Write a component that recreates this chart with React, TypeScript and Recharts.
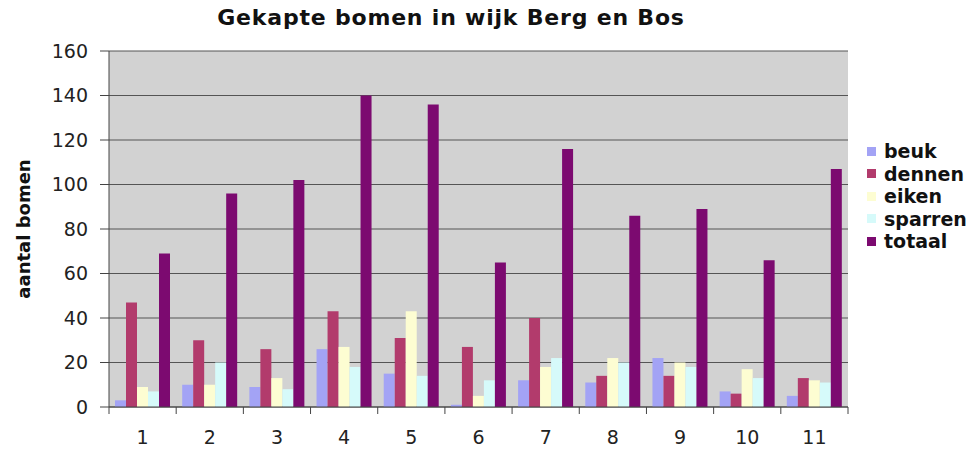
import React from 'react';
import { BarChart, Bar, XAxis, YAxis, CartesianGrid } from 'recharts';

const categories = ['1', '2', '3', '4', '5', '6', '7', '8', '9', '10', '11'];
const beuk = [3, 10, 9, 26, 15, 1, 12, 11, 22, 7, 5];
const dennen = [47, 30, 26, 43, 31, 27, 40, 14, 14, 6, 13];
const eiken = [9, 10, 13, 27, 43, 5, 18, 22, 20, 17, 12];
const sparren = [7, 20, 8, 18, 14, 12, 22, 20, 18, 13, 11];
const totaal = [69, 96, 102, 140, 136, 65, 116, 86, 89, 66, 107];
const yTicks = [0, 20, 40, 60, 80, 100, 120, 140, 160];

const SERIES = [
  { key: 'beuk', color: '#a3a3f5' },
  { key: 'dennen', color: '#b23b6c' },
  { key: 'eiken', color: '#fdfdd2' },
  { key: 'sparren', color: '#d6fafa' },
  { key: 'totaal', color: '#7c0a70' },
];

const data = categories.map((name, i) => ({
  name,
  beuk: beuk[i],
  dennen: dennen[i],
  eiken: eiken[i],
  sparren: sparren[i],
  totaal: totaal[i],
}));

const FONT = '"DejaVu Sans", Arial, sans-serif';
const W = 972;
const H = 450;
const X_AXIS_H = 30;
const margin = { top: 51, right: 124, bottom: 13, left: 10 };
const bandWidth = (W - margin.left - 99 - margin.right) / categories.length;
const axisY = H - margin.bottom - X_AXIS_H;

// x ticks sit on category boundaries, labels in the middle (Excel style)
const XTick = (props: any) => {
  const { x, payload, index } = props;
  return (
    <g>
      <line x1={x - bandWidth / 2} x2={x - bandWidth / 2} y1={axisY} y2={axisY + 7} stroke="#444" />
      {index === categories.length - 1 && (
        <line x1={x + bandWidth / 2} x2={x + bandWidth / 2} y1={axisY} y2={axisY + 7} stroke="#444" />
      )}
      <text x={x} y={axisY + 37} textAnchor="middle" fontSize={19} fill="#222" fontFamily={FONT}>
        {payload.value}
      </text>
    </g>
  );
};

const YTitle = (props: any) => {
  const { viewBox } = props;
  const cx = viewBox.x + 20;
  const cy = viewBox.y + viewBox.height / 2;
  return (
    <text
      transform={`translate(${cx},${cy}) rotate(-90)`}
      textAnchor="middle"
      fontSize={18}
      fontWeight="bold"
      fill="#111"
      fontFamily={FONT}
    >
      aantal bomen
    </text>
  );
};

export default function App() {
  return (
    <div style={{ position: 'absolute', left: 0, top: 0, width: W, height: H, background: '#fff', fontFamily: FONT }}>
      <div
        style={{
          position: 'absolute',
          top: 5,
          left: 0,
          width: 902,
          textAlign: 'center',
          fontSize: 22,
          fontWeight: 'bold',
          letterSpacing: 0.8,
          color: '#111',
        }}
      >
        Gekapte bomen in wijk Berg en Bos
      </div>

      <BarChart width={W} height={H} data={data} margin={margin} barGap={0} barCategoryGap={6}>
        <CartesianGrid fill="#d2d2d2" stroke="#555" vertical={false} />
        <XAxis
          dataKey="name"
          height={X_AXIS_H}
          tickLine={false}
          tick={<XTick />}
          axisLine={{ stroke: '#444' }}
          interval={0}
        />
        <YAxis
          width={99}
          domain={[0, 160]}
          ticks={yTicks}
          tickSize={9}
          tickMargin={12}
          tick={{ fontSize: 19, fill: '#222', fontFamily: FONT }}
          tickLine={{ stroke: '#444' }}
          axisLine={{ stroke: '#444' }}
          label={{ content: <YTitle /> }}
        />
        {SERIES.map((s) => (
          <Bar key={s.key} dataKey={s.key} fill={s.color} isAnimationActive={false} />
        ))}
      </BarChart>

      <div style={{ position: 'absolute', left: 867, top: 140 }}>
        {SERIES.map((s) => (
          <div key={s.key} style={{ display: 'flex', alignItems: 'center', height: 22.5 }}>
            <span style={{ width: 9, height: 9, background: s.color, marginRight: 8, display: 'inline-block' }} />
            <span style={{ fontSize: 19, fontWeight: 'bold', color: '#111' }}>{s.key}</span>
          </div>
        ))}
      </div>
    </div>
  );
}
